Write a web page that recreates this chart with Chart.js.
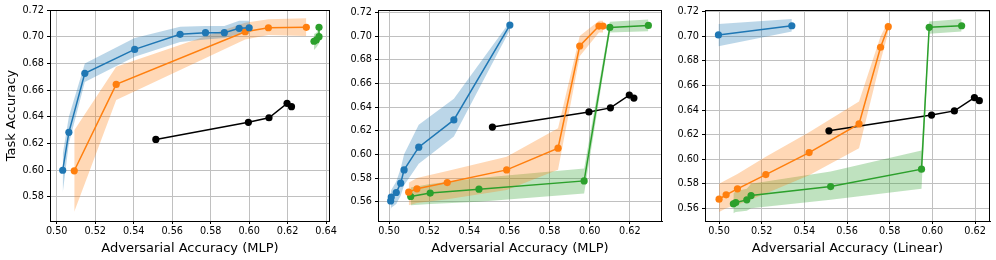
<!DOCTYPE html>
<html>
<head>
<meta charset="utf-8">
<script src="https://cdn.jsdelivr.net/npm/chart.js@4"></script>
<style>
  body { margin: 0; background: #fff; }
  #wrap { position: relative; width: 996px; height: 260px; }
  .panel { position: absolute; top: 0; height: 260px; }
</style>
</head>
<body>
<div id="wrap">
  <div class="panel" style="left:0px;width:339px"><canvas id="c1"></canvas></div>
  <div class="panel" style="left:339px;width:329px"><canvas id="c2"></canvas></div>
  <div class="panel" style="left:668px;width:328px"><canvas id="c3"></canvas></div>
</div>
<script>
// baseline (black), same in all panels
const baseX = [0.5515, 0.5996, 0.6103, 0.6197, 0.6220];
const baseY = [0.6231, 0.6359, 0.6393, 0.6501, 0.6476];

// panel 1 - MLP
const p1BlueX = [0.5031, 0.5063, 0.5146, 0.5405, 0.5641, 0.5773, 0.5871, 0.5948, 0.6000];
const p1BlueY = [0.6000, 0.6284, 0.6726, 0.6905, 0.7018, 0.7030, 0.7030, 0.7063, 0.7067];
const p1BlueLo = [0.583, 0.620, 0.666, 0.685, 0.696, 0.698, 0.699, 0.702, 0.702];
const p1BlueHi = [0.612, 0.640, 0.680, 0.699, 0.7075, 0.708, 0.708, 0.712, 0.712];
const p1OrangeX = [0.5091, 0.5309, 0.5979, 0.6100, 0.6297];
const p1OrangeY = [0.5996, 0.6643, 0.7037, 0.7067, 0.7070];
const p1OrangeLo = [0.569, 0.6526, 0.698, 0.7013, 0.7005];
const p1OrangeHi = [0.630, 0.6775, 0.7105, 0.713, 0.7138];
const p1GreenX = [0.6337, 0.6349, 0.6363, 0.6363];
const p1GreenY = [0.6966, 0.6975, 0.7000, 0.7070];
const p1GreenLo = [0.690, 0.692, 0.695, 0.704];
const p1GreenHi = [0.702, 0.703, 0.706, 0.710];

// panel 2 - MLP
const p2BlueX = [0.5008, 0.5011, 0.5036, 0.5058, 0.5075, 0.5148, 0.5323, 0.5602];
const p2BlueY = [0.5607, 0.5639, 0.5678, 0.5757, 0.5869, 0.6061, 0.6291, 0.7093];
const p2BlueLo = [0.552, 0.555, 0.558, 0.565, 0.574, 0.592, 0.615, 0.705];
const p2BlueHi = [0.566, 0.570, 0.577, 0.588, 0.600, 0.625, 0.647, 0.712];
const p2OrangeX = [0.5098, 0.5139, 0.5290, 0.5586, 0.5842, 0.5950, 0.6046, 0.6066];
const p2OrangeY = [0.5681, 0.5709, 0.5762, 0.5869, 0.6052, 0.6916, 0.7084, 0.7084];
const p2OrangeLo = [0.557, 0.559, 0.562, 0.570, 0.587, 0.683, 0.703, 0.703];
const p2OrangeHi = [0.576, 0.580, 0.586, 0.598, 0.622, 0.700, 0.713, 0.713];
const p2GreenX = [0.5108, 0.5205, 0.5448, 0.5972, 0.6100, 0.6292];
const p2GreenY = [0.5644, 0.5673, 0.5706, 0.5776, 0.7073, 0.7090];
const p2GreenLo = [0.557, 0.558, 0.560, 0.567, 0.703, 0.704];
const p2GreenHi = [0.572, 0.575, 0.580, 0.588, 0.712, 0.714];

// panel 3 - Linear
const p3BlueX = [0.4997, 0.5341];
const p3BlueY = [0.7011, 0.7086];
const p3BlueLo = [0.692, 0.704];
const p3BlueHi = [0.710, 0.714];
const p3OrangeX = [0.5000, 0.5033, 0.5086, 0.5219, 0.5422, 0.5656, 0.5757, 0.5793];
const p3OrangeY = [0.5675, 0.5710, 0.5759, 0.5875, 0.6054, 0.6287, 0.6911, 0.7078];
const p3OrangeLo = [0.557, 0.560, 0.563, 0.572, 0.587, 0.609, 0.680, 0.703];
const p3OrangeHi = [0.580, 0.583, 0.588, 0.602, 0.622, 0.647, 0.700, 0.712];
const p3GreenX = [0.5067, 0.5078, 0.5130, 0.5150, 0.5523, 0.5949, 0.5985, 0.6137];
const p3GreenY = [0.5637, 0.5647, 0.5669, 0.5704, 0.5777, 0.5919, 0.7073, 0.7086];
const p3GreenLo = [0.556, 0.557, 0.558, 0.560, 0.567, 0.576, 0.702, 0.704];
const p3GreenHi = [0.572, 0.574, 0.576, 0.580, 0.590, 0.607, 0.712, 0.714];

const yTicks1 = [0.58, 0.60, 0.62, 0.64, 0.66, 0.68, 0.70, 0.72];
const yTicks23 = [0.56, 0.58, 0.60, 0.62, 0.64, 0.66, 0.68, 0.70, 0.72];
const xTicks1 = [0.50, 0.52, 0.54, 0.56, 0.58, 0.60, 0.62, 0.64];
const xTicks23 = [0.50, 0.52, 0.54, 0.56, 0.58, 0.60, 0.62];

const BLUE = "#1f77b4", ORANGE = "#ff7f0e", GREEN = "#2ca02c";
const FONT = "'DejaVu Sans', sans-serif";

const pts = (xs, ys) => xs.map((x, i) => ({ x: x, y: ys[i] }));

function series(color, xs, ys, lo, hi) {
  const out = [];
  if (lo) {
    out.push({ data: pts(xs, lo), borderWidth: 0, pointRadius: 0, fill: false, order: 10 });
    out.push({ data: pts(xs, hi), borderWidth: 0, pointRadius: 0, fill: "-1",
      backgroundColor: color + "4d", order: 10 });
  }
  out.push({ data: pts(xs, ys), borderColor: color, borderWidth: 1.5,
    pointRadius: 3.6, pointBackgroundColor: color, pointBorderWidth: 0,
    pointHoverRadius: 3.6, fill: false, order: 1 });
  return out;
}

const frame = {
  id: "frame",
  afterDraw(chart) {
    const a = chart.chartArea, ctx = chart.ctx;
    ctx.save();
    ctx.strokeStyle = "#000";
    ctx.lineWidth = 1;
    ctx.strokeRect(a.left + 0.5, a.top + 0.5, a.right - a.left - 1, a.bottom - a.top);
    ctx.restore();
  }
};

function makeChart(id, datasets, cfg) {
  new Chart(id, {
    type: "line",
    data: { datasets: datasets },
    plugins: [frame],
    options: {
      responsive: false,
      animation: false,
      layout: { padding: { top: 10, right: 6, bottom: 0, left: 0 } },
      plugins: { legend: { display: false }, tooltip: { enabled: false } },
      scales: {
        x: {
          type: "linear", min: cfg.xMin, max: cfg.xMax,
          afterBuildTicks: (s) => { s.ticks = cfg.xTicks.map((v) => ({ value: v })); },
          afterFit: (s) => { s.height = 39; },
          grid: { color: "#c0c0c0", lineWidth: 1, tickColor: "#000", tickLength: 3 },
          border: { color: "#000", width: 1 },
          ticks: { color: "#000", font: { family: FONT, size: 9.7 }, padding: 2, maxRotation: 0,
            callback: (v) => v.toFixed(2) },
          title: { display: true, text: cfg.xTitle, color: "#000",
            font: { family: FONT, size: 13 }, padding: { top: 0, bottom: 4 } }
        },
        y: {
          min: cfg.yMin, max: cfg.yMax,
          afterBuildTicks: (s) => { s.ticks = cfg.yTicks.map((v) => ({ value: v })); },
          afterFit: (s) => { s.width = cfg.yWidth; },
          grid: { color: "#c0c0c0", lineWidth: 1, tickColor: "#000", tickLength: 3 },
          border: { color: "#000", width: 1 },
          ticks: { color: "#000", font: { family: FONT, size: 9.7 }, padding: 3,
            callback: (v) => v.toFixed(2) },
          title: { display: !!cfg.yTitle, text: cfg.yTitle || "", color: "#000",
            font: { family: FONT, size: 13 }, padding: { top: 4, bottom: 0 } }
        }
      }
    }
  });
}

function sizeCanvas(id, w) {
  const c = document.getElementById(id);
  c.width = w; c.height = 260;
  c.style.width = w + "px"; c.style.height = "260px";
}
sizeCanvas("c1", 339); sizeCanvas("c2", 329); sizeCanvas("c3", 328);

makeChart("c1", [].concat(
  series(BLUE, p1BlueX, p1BlueY, p1BlueLo, p1BlueHi),
  series(ORANGE, p1OrangeX, p1OrangeY, p1OrangeLo, p1OrangeHi),
  series(GREEN, p1GreenX, p1GreenY, p1GreenLo, p1GreenHi),
  series("#000000", baseX, baseY)
), { xMin: 0.4965, xMax: 0.642, yMin: 0.562, yMax: 0.72, xTicks: xTicks1, yTicks: yTicks1,
  yWidth: 50, xTitle: "Adversarial Accuracy (MLP)", yTitle: "Task Accuracy" });

makeChart("c2", [].concat(
  series(BLUE, p2BlueX, p2BlueY, p2BlueLo, p2BlueHi),
  series(ORANGE, p2OrangeX, p2OrangeY, p2OrangeLo, p2OrangeHi),
  series(GREEN, p2GreenX, p2GreenY, p2GreenLo, p2GreenHi),
  series("#000000", baseX, baseY)
), { xMin: 0.4945, xMax: 0.636, yMin: 0.5437, yMax: 0.722, xTicks: xTicks23, yTicks: yTicks23,
  yWidth: 39, xTitle: "Adversarial Accuracy (MLP)" });

makeChart("c3", [].concat(
  series(BLUE, p3BlueX, p3BlueY, p3BlueLo, p3BlueHi),
  series(ORANGE, p3OrangeX, p3OrangeY, p3OrangeLo, p3OrangeHi),
  series(GREEN, p3GreenX, p3GreenY, p3GreenLo, p3GreenHi),
  series("#000000", baseX, baseY)
), { xMin: 0.4934, xMax: 0.627, yMin: 0.5497, yMax: 0.7214, xTicks: xTicks23, yTicks: yTicks23,
  yWidth: 37, xTitle: "Adversarial Accuracy (Linear)" });
</script>
</body>
</html>
